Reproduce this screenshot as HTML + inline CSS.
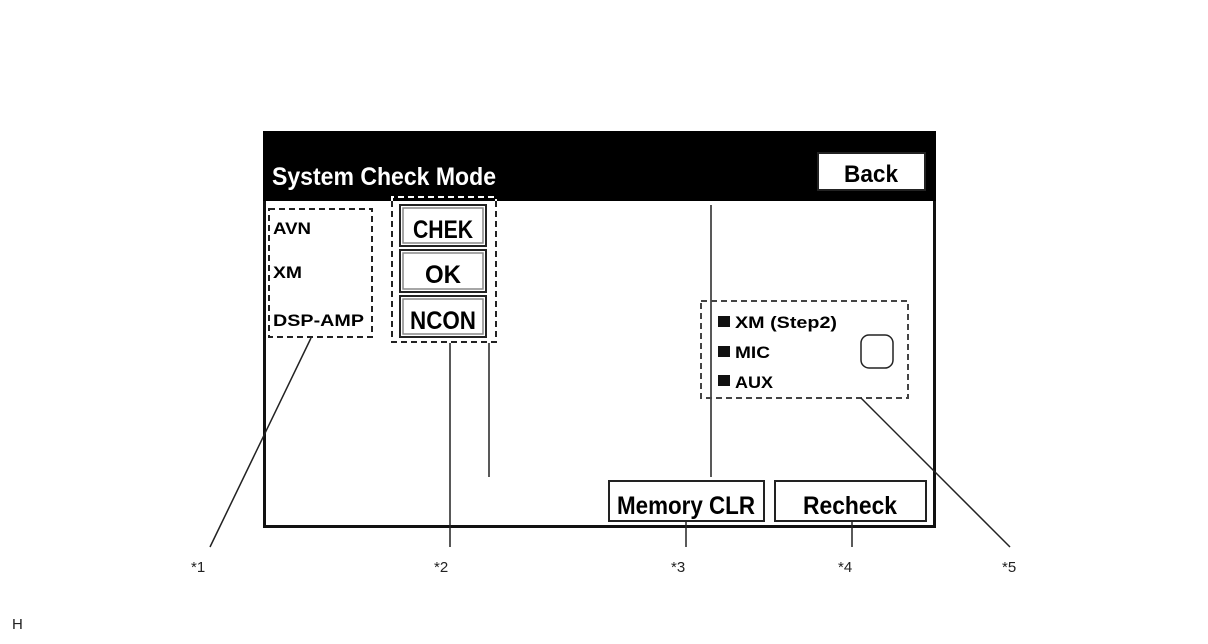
<!DOCTYPE html>
<html><head><meta charset="utf-8"><style>
html,body{margin:0;padding:0;background:#fff;}
svg{display:block;}
.c{font-family:"Liberation Sans Narrow","Liberation Sans",sans-serif;font-weight:bold;}
.l{font-family:"Liberation Sans",sans-serif;font-size:15px;fill:#222;}
</style></head><body>
<svg width="1208" height="644" viewBox="0 0 1208 644" xmlns="http://www.w3.org/2000/svg">
<rect x="0" y="0" width="1208" height="644" fill="#fff"/>
<rect x="264.5" y="132.5" width="670" height="394" fill="#fff" stroke="#111" stroke-width="3"/>
<rect x="263" y="131" width="673" height="70" fill="#000"/>
<text x="272" y="185" class="c" font-size="25" fill="#fff" textLength="224" lengthAdjust="spacingAndGlyphs">System Check Mode</text>
<rect x="818" y="153" width="107" height="37" fill="#fff" stroke="#222" stroke-width="2"/>
<text x="871" y="182" class="c" font-size="24" text-anchor="middle" textLength="54" lengthAdjust="spacingAndGlyphs">Back</text>

<rect x="269" y="209" width="103" height="128" fill="none" stroke="#222" stroke-width="2" stroke-dasharray="6,4"/>
<text x="273" y="234" class="c" font-size="17" textLength="38" lengthAdjust="spacingAndGlyphs">AVN</text>
<text x="273" y="278" class="c" font-size="17" textLength="29" lengthAdjust="spacingAndGlyphs">XM</text>
<text x="273" y="326" class="c" font-size="17" textLength="91" lengthAdjust="spacingAndGlyphs">DSP-AMP</text>

<g fill="#fff" stroke="#222" stroke-width="2">
<rect x="400" y="205" width="86" height="41"/>
<rect x="400" y="250" width="86" height="42"/>
<rect x="400" y="296" width="86" height="41"/>
</g>
<g fill="none" stroke="#888" stroke-width="1.5">
<rect x="403" y="208" width="80" height="35"/>
<rect x="403" y="253" width="80" height="36"/>
<rect x="403" y="299" width="80" height="35"/>
</g>
<text x="443" y="238" class="c" font-size="25" text-anchor="middle" textLength="60" lengthAdjust="spacingAndGlyphs">CHEK</text>
<text x="443" y="283" class="c" font-size="25" text-anchor="middle" textLength="36" lengthAdjust="spacingAndGlyphs">OK</text>
<text x="443" y="329" class="c" font-size="25" text-anchor="middle" textLength="66" lengthAdjust="spacingAndGlyphs">NCON</text>
<path d="M392 201 V342 H496 V201" fill="none" stroke="#222" stroke-width="2" stroke-dasharray="6,4"/>
<path d="M392 201 V197 H496 V201" fill="none" stroke="#fff" stroke-width="2" stroke-dasharray="6,4"/>

<line x1="489" y1="343" x2="489" y2="477" stroke="#222" stroke-width="1.5"/>
<line x1="711" y1="205" x2="711" y2="477" stroke="#222" stroke-width="1.5"/>

<rect x="701" y="301" width="207" height="97" fill="none" stroke="#444" stroke-width="2" stroke-dasharray="6,4"/>
<rect x="718" y="316" width="12" height="11" fill="#111"/>
<rect x="718" y="346" width="12" height="11" fill="#111"/>
<rect x="718" y="375" width="12" height="11" fill="#111"/>
<text x="735" y="328" class="c" font-size="17" textLength="102" lengthAdjust="spacingAndGlyphs">XM (Step2)</text>
<text x="735" y="358" class="c" font-size="17" textLength="35" lengthAdjust="spacingAndGlyphs">MIC</text>
<text x="735" y="388" class="c" font-size="17" textLength="38" lengthAdjust="spacingAndGlyphs">AUX</text>
<rect x="861" y="335" width="32" height="33" rx="8" fill="none" stroke="#222" stroke-width="1.5"/>

<rect x="609" y="481" width="155" height="40" fill="#fff" stroke="#222" stroke-width="2"/>
<text x="686" y="514" class="c" font-size="25" text-anchor="middle" textLength="138" lengthAdjust="spacingAndGlyphs">Memory CLR</text>
<rect x="775" y="481" width="151" height="40" fill="#fff" stroke="#222" stroke-width="2"/>
<text x="850" y="514" class="c" font-size="25" text-anchor="middle" textLength="94" lengthAdjust="spacingAndGlyphs">Recheck</text>

<g stroke="#222" stroke-width="1.5">
<line x1="311" y1="338" x2="210" y2="547"/>
<line x1="450" y1="343" x2="450" y2="547"/>
<line x1="686" y1="521" x2="686" y2="547"/>
<line x1="852" y1="521" x2="852" y2="547"/>
<line x1="861" y1="398" x2="1010" y2="547"/>
</g>
<text x="191" y="572" class="l">*1</text>
<text x="434" y="572" class="l">*2</text>
<text x="671" y="572" class="l">*3</text>
<text x="838" y="572" class="l">*4</text>
<text x="1002" y="572" class="l">*5</text>
<text x="12" y="629" class="l" font-size="13">H</text>
</svg>
</body></html>
